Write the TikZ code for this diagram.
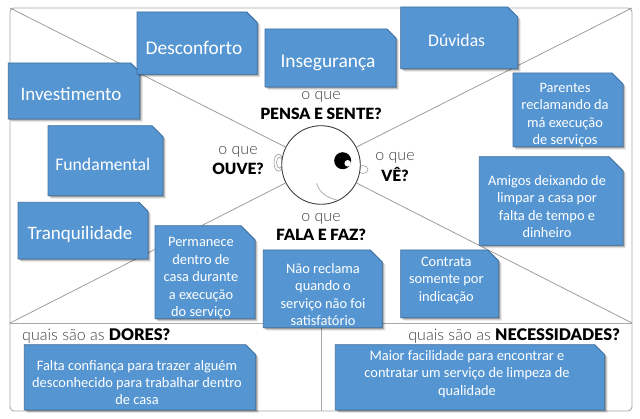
\documentclass[tikz,border=0pt]{standalone}
\usepackage{fontspec}
\setmainfont{Carlito}
\newfontfamily\lab{Lato Light}
\newfontfamily\labb{Lato Black}
\definecolor{boxblue}{HTML}{5596D2}
\definecolor{boxedge}{HTML}{3F6F9F}
\definecolor{frameg}{HTML}{A8A8A8}
\definecolor{lineg}{HTML}{A09E98}
\definecolor{queg}{HTML}{404040}
\tikzset{
  noteface/.style={fill=boxblue,draw=boxedge,line width=0.8pt,line join=miter},
  notetext/.style={text=white,align=center,inner sep=0pt},
  bl/.style={font=\fontsize{14.4}{17.4}\selectfont,yshift=-1.5pt},
  big/.style={font=\fontsize{19.4}{22}\selectfont},
  bigb/.style={font=\fontsize{19}{22}\selectfont},
  mid/.style={font=\fontsize{17.7}{22}\selectfont},
  quelab/.style={font=\lab\fontsize{16}{18}\selectfont,text=queg,inner sep=0pt,yshift=-1.5pt},
  boldlab/.style={font=\labb\fontsize{15.5}{18}\selectfont,text=black,inner sep=0pt,yshift=-1pt},
  framel/.style={draw=frameg,line width=0.9pt},
  diag/.style={draw=lineg,line width=0.8pt}
}
% #1 name, #2-#5 x1 y1 x2 y2, #6 cut, #7 text x, #8 text y, #9 style; text follows
\newcommand{\notebox}[9]{%
  \foreach \oo/\aa in {3.2/0.06,2.4/0.10,1.6/0.14,0.9/0.18}{%
    \fill[black,opacity=\aa] (#2+\oo,#3+\oo) -- (#4-#6+\oo,#3+\oo) -- (#4+\oo,#3+#6+\oo) -- (#4+\oo,#5+\oo) -- (#2+\oo,#5+\oo) -- cycle;}
  \draw[noteface] (#2,#3) -- (#4-#6,#3) -- (#4,#3+#6) -- (#4,#5) -- (#2,#5) -- cycle;
  \node[notetext,#9] (#1) at (#7,#8)
}
\begin{document}
\begin{tikzpicture}[x=1pt,y=-1pt]
\useasboundingbox (0,0) rectangle (640,419);
\fill[white] (0,0) rectangle (640,419);
\coordinate (tl) at (10,8);
\coordinate (tr) at (632,8);
\coordinate (ml) at (10,323);
\coordinate (mr) at (632,323);
\coordinate (mm) at (321,323);
\coordinate (bm) at (321,411);
\draw[framel,rounded corners=4pt] (tl) -- (tr) -- (632,411) -- (10,411) -- cycle;
\draw[framel] (ml) -- (mr);
\draw[framel] (mm) -- (bm);
% ears
\draw[draw=gray!80,line width=0.6pt] (278.5,162.7) ellipse (4.5 and 8.5);
\draw[draw=gray!80,line width=0.6pt] (279.5,162.7) ellipse (3 and 5.5);
\draw[draw=gray!80,line width=0.6pt] (363,169.5) ellipse (5 and 4);
\node[circle,draw=black!75,fill=white,line width=0.9pt,minimum size=78.6pt,inner sep=0pt] (face) at (321,165) {};
\draw[diag] (tl) -- (face);
\draw[diag] (tr) -- (face);
\draw[diag] (ml) -- (face);
\draw[diag] (mr) -- (face);
\draw[draw=gray!70,line width=0.7pt] (316.7,183.3) .. controls (319,193) and (328,198) .. (337,200);
\node[circle,fill=black,minimum size=17pt,inner sep=0pt] (eye) at (342.7,160.7) {};
\node[circle,fill=white,minimum size=6.5pt,inner sep=0pt] (glint) at (347.7,163.3) {};
% labels
\node[quelab] (q1) at (321,95) {o que};
\node[boldlab] (b1) at (321,113) {PENSA E SENTE?};
\node[quelab] (q2) at (238,150) {o que};
\node[boldlab] (b2) at (238,168) {OUVE?};
\node[quelab] (q3) at (395,156) {o que};
\node[boldlab] (b3) at (395,173) {VÊ?};
\node[quelab] (q4) at (321,217) {o que};
\node[boldlab] (b4) at (321,234) {FALA E FAZ?};
\node[quelab,anchor=west] (dores) at (22,335) {quais são as {\labb\color{black}DORES?}};
\node[quelab,anchor=east] (nec) at (620,335) {quais são as {\labb\color{black}NECESSIDADES?}};
% notes
\notebox{n2}{8.3}{63}{139.7}{119}{9}{71}{94}{bigb}{Investimento};
\notebox{n1}{137}{12}{257.3}{74.3}{10.5}{194}{48}{big}{Desconforto};
\notebox{n3}{48}{125.7}{163}{195.7}{11}{102.7}{164}{mid}{Fundamental};
\notebox{n4}{265}{29}{396}{87}{9}{328}{63}{big}{Insegurança};
\notebox{n5}{400.7}{7}{517.7}{68.7}{10}{456.7}{40}{mid}{Dúvidas};
\notebox{n6}{513}{73}{623}{146.7}{11}{565}{113.5}{bl}{Parentes\\reclamando da\\má execução\\de serviços};
\notebox{n7}{479.3}{156.7}{623}{245.3}{14}{547}{205}{bl}{Amigos deixando de\\limpar a casa por\\falta de tempo e\\dinheiro};
\notebox{n8}{18}{202.3}{148}{259}{9}{80}{234}{bigb}{Tranquilidade};
\notebox{n9}{155}{225.7}{255}{318.7}{14}{201}{276.7}{bl}{Permanece\\dentro de\\casa durante\\a execução\\do serviço};
\notebox{n10}{263.3}{250}{382.3}{327.7}{12}{323}{293}{bl}{Não reclama\\quando o\\serviço não foi\\satisfatório};
\notebox{n11}{400.7}{250}{498.7}{317.7}{11}{446.3}{279}{bl}{Contrata\\somente por\\indicação};
\notebox{n12}{24.3}{344.7}{255.7}{410}{10}{137}{381}{bl}{Falta confiança para trazer alguém\\desconhecido para trabalhar dentro\\de casa};
\notebox{n13}{335.3}{344.7}{604.7}{410}{10}{467}{372.5}{bl}{Maior facilidade para encontrar e\\contratar um serviço de limpeza de\\qualidade};
\end{tikzpicture}
\end{document}
